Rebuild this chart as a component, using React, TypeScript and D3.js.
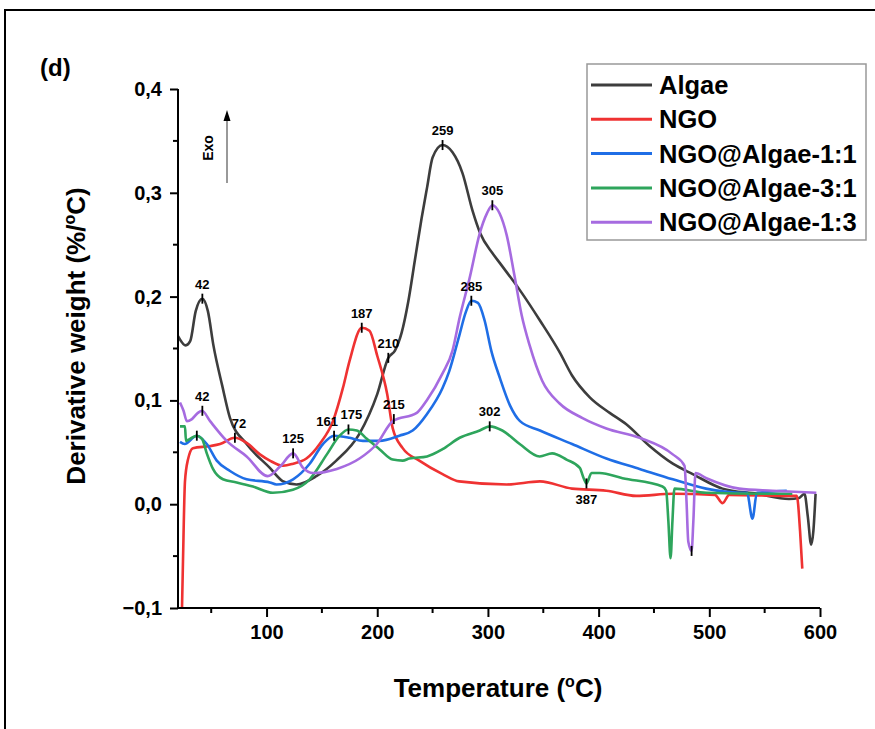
import React, { useEffect, useRef } from 'react';
import * as d3 from 'd3';

// [temperature °C, derivative weight %/°C]
const algae: [number, number][] = [
  [20, 0.162], [27, 0.153], [31, 0.157], [36, 0.186], [42, 0.198], [47, 0.186], [52, 0.153],
  [60, 0.114], [67, 0.083], [82, 0.058], [103, 0.035], [115, 0.022], [127, 0.019], [145, 0.027],
  [163, 0.042], [184, 0.068], [200, 0.106], [210, 0.141], [216, 0.148], [222, 0.165], [228, 0.195],
  [234, 0.235], [240, 0.275], [245, 0.305], [250, 0.334], [259, 0.346], [268, 0.339], [277, 0.319],
  [286, 0.283], [293, 0.261], [304, 0.242], [311, 0.232], [329, 0.206], [347, 0.177], [365, 0.146],
  [376, 0.124], [392, 0.103], [410, 0.088], [425, 0.077], [446, 0.056], [467, 0.039], [485, 0.029],
  [512, 0.015], [543, 0.010], [572, 0.005], [581, 0.006], [586, 0.010], [589, -0.012], [592, -0.039],
  [594, -0.026], [596, 0.010],
];

const ngo: [number, number][] = [
  [23.6, -0.101], [24.5, -0.055], [26.3, 0.022], [29, 0.043], [33.5, 0.054], [49, 0.056],
  [58, 0.058], [71.4, 0.064], [82, 0.059], [94, 0.048], [103, 0.042], [115, 0.037], [124, 0.039],
  [136, 0.044], [148, 0.058], [160, 0.080], [169, 0.112], [175, 0.138], [186, 0.170], [193, 0.167],
  [200, 0.143], [209, 0.106], [214, 0.073], [223, 0.054], [238, 0.042], [259, 0.029], [274, 0.022],
  [317, 0.019], [347, 0.022], [376, 0.015], [407, 0.013], [434, 0.008], [467, 0.010], [505, 0.009],
  [512, 0.001], [518, 0.009], [572, 0.008], [579, 0.008], [582, -0.026], [584, -0.062],
];

const ngoAlgae11: [number, number][] = [
  [21.8, 0.060], [26, 0.058], [37, 0.066], [46, 0.058], [55, 0.042], [67, 0.032], [82, 0.024],
  [103, 0.021], [109, 0.019], [124, 0.024], [139, 0.039], [151, 0.058], [161, 0.066], [175, 0.064],
  [187, 0.061], [202, 0.061], [220, 0.066], [232, 0.071], [245, 0.087], [259, 0.112], [265, 0.128],
  [274, 0.162], [280, 0.185], [285, 0.196], [291, 0.194], [297, 0.177], [303, 0.148], [311, 0.121],
  [320, 0.095], [329, 0.080], [347, 0.071], [376, 0.058], [407, 0.044], [437, 0.034], [467, 0.024],
  [497, 0.015], [527, 0.011], [534, 0.011], [539, -0.014], [543, 0.011], [570, 0.013],
];

const ngoAlgae31: [number, number][] = [
  [21.8, 0.075], [26.3, 0.075], [27.2, 0.061], [30.8, 0.063], [37, 0.066], [41.7, 0.063],
  [46, 0.049], [51.6, 0.034], [60.6, 0.024], [73, 0.021], [87.7, 0.017], [105.7, 0.011],
  [123.8, 0.014], [139, 0.024], [154.5, 0.048], [166, 0.066], [174, 0.072], [181.5, 0.071],
  [190.6, 0.063], [202, 0.053], [214, 0.043], [223, 0.042], [229, 0.044], [245, 0.046],
  [259, 0.053], [274.5, 0.064], [292.6, 0.071], [301.6, 0.075], [313, 0.071], [328.7, 0.058],
  [346.7, 0.046], [358, 0.049], [371, 0.043], [383, 0.035], [386.5, 0.025], [389, 0.020],
  [393.6, 0.030], [400.9, 0.030], [421.6, 0.025], [457.7, 0.017], [461, 0.013], [463, -0.016],
  [465, -0.052], [466.7, -0.016], [468.5, 0.015], [497.4, 0.011], [557, 0.010], [575, 0.010],
];

const ngoAlgae13: [number, number][] = [
  [21.8, 0.098], [25, 0.090], [28, 0.080], [32.6, 0.082], [38, 0.088], [41.7, 0.090], [49, 0.080],
  [64, 0.061], [82, 0.046], [101, 0.027], [112, 0.036], [124, 0.049], [133, 0.035], [142, 0.030],
  [163.5, 0.034], [184, 0.044], [199.6, 0.058], [214, 0.080], [235.7, 0.088], [244.7, 0.100],
  [259, 0.126], [268, 0.148], [274.5, 0.180], [283.5, 0.218], [292.6, 0.261], [299, 0.280],
  [304, 0.288], [310.6, 0.280], [317, 0.259], [324, 0.220], [330.5, 0.182], [337.7, 0.153],
  [349, 0.119], [364.8, 0.097], [385.5, 0.083], [407, 0.073], [437, 0.064], [467, 0.048],
  [477.6, 0.037], [479.4, 0.003], [481, -0.036], [484, -0.045], [485.6, -0.016], [487.5, 0.030],
  [497.4, 0.025], [527, 0.015], [557, 0.013], [596.7, 0.011],
];

const seriesNames = ['Algae', 'NGO', 'NGO@Algae-1:1', 'NGO@Algae-3:1', 'NGO@Algae-1:3'];
const seriesData = [algae, ngo, ngoAlgae11, ngoAlgae31, ngoAlgae13];
const seriesColors = ['#3d3d3d', '#ef3232', '#1f6ee6', '#2ea55c', '#a66be0'];

// peak markers: [T, value, label]
const peaks: [number, number, string][] = [
  [42, 0.198, '42'], [259, 0.346, '259'], [285, 0.196, '285'], [304, 0.288, '305'],
  [186, 0.170, '187'], [210, 0.141, '210'], [42, 0.090, '42'], [71.4, 0.064, '72'],
  [124, 0.049, '125'], [161, 0.066, '161'], [174, 0.072, '175'], [215, 0.082, '215'],
  [301.6, 0.075, '302'], [389, 0.020, '387'], [37, 0.066, ''], [484, -0.045, ''],
];
// labels drawn below their marker, and small sideways nudges to keep neighbours apart
const labelsBelow = ['387'];
const labelNudge: Record<string, number> = { '161': -7, '175': 3, '72': 4 };

const yTicks = [-0.1, 0, 0.1, 0.2, 0.3, 0.4];
const yMinor = [-0.05, 0.05, 0.15, 0.25, 0.35];
const xTicks = [100, 200, 300, 400, 500, 600];
const xMinor = [50, 150, 250, 350, 450, 550];

const W = 875;
const H = 729;
const FONT = 'Liberation Sans, Arial, sans-serif';

export default function App() {
  const ref = useRef<SVGSVGElement>(null);

  useEffect(() => {
    document.body.style.margin = '0';
    const svg = d3.select(ref.current);
    svg.selectAll('*').remove();

    const x = d3.scaleLinear().domain([20, 600]).range([178, 820]);
    const y = d3.scaleLinear().domain([-0.1, 0.4]).range([608, 89]);

    // outer frame
    svg.append('path')
      .attr('d', `M5,${H + 5} L5,10 L${W + 5},10`)
      .attr('fill', 'none')
      .attr('stroke', '#000')
      .attr('stroke-width', 2);

    svg.append('text')
      .attr('x', 40).attr('y', 76)
      .attr('font-family', FONT).attr('font-weight', 'bold').attr('font-size', 24)
      .text('(d)');

    // clip for curves
    svg.append('clipPath').attr('id', 'plot-clip')
      .append('rect').attr('x', 178).attr('y', 60).attr('width', 660).attr('height', 549);

    const line = d3.line<[number, number]>()
      .x(d => x(d[0]))
      .y(d => y(d[1]))
      .curve(d3.curveMonotoneX);

    const curves = svg.append('g').attr('clip-path', 'url(#plot-clip)');
    seriesData.forEach((s, i) => {
      curves.append('path')
        .datum(s)
        .attr('fill', 'none')
        .attr('stroke', seriesColors[i])
        .attr('stroke-width', 2.6)
        .attr('stroke-linejoin', 'round')
        .attr('d', line);
    });

    const fmt = (v: number) => d3.format('.1f')(v).replace('.', ',').replace('-', '\u2212');

    // y axis
    const yAxis = svg.append('g').attr('transform', 'translate(178,0)');
    yAxis.call(d3.axisLeft(y).tickValues(yTicks).tickSize(8).tickPadding(8).tickFormat(d => fmt(+d)));
    yMinor.forEach(v => {
      yAxis.append('line').attr('x1', -5).attr('x2', 0).attr('y1', y(v)).attr('y2', y(v))
        .attr('stroke', '#000').attr('stroke-width', 2);
    });

    // x axis
    const xAxis = svg.append('g').attr('transform', 'translate(0,608)');
    xAxis.call(d3.axisBottom(x).tickValues(xTicks).tickSize(9).tickPadding(8).tickFormat(d3.format('d')));
    xMinor.forEach(v => {
      xAxis.append('line').attr('x1', x(v)).attr('x2', x(v)).attr('y1', 0).attr('y2', 5)
        .attr('stroke', '#000').attr('stroke-width', 2);
    });

    yAxis.select('.domain').attr('stroke-width', 2).attr('d', `M0,${y(-0.1)}V${y(0.4)}`);
    xAxis.select('.domain').attr('stroke-width', 2).attr('d', `M178,0H${x(600)}`);
    [yAxis, xAxis].forEach(a => {
      a.selectAll('.tick line').attr('stroke-width', 2);
      a.selectAll('.tick text')
        .attr('font-family', FONT).attr('font-weight', 'bold').attr('font-size', 20).attr('fill', '#000');
    });

    // axis titles
    const yt = svg.append('text')
      .attr('transform', 'translate(85,336) rotate(-90)')
      .attr('text-anchor', 'middle')
      .attr('font-family', FONT).attr('font-weight', 'bold').attr('font-size', 26);
    yt.append('tspan').text('Derivative weight (%/');
    yt.append('tspan').attr('font-size', 16).attr('dy', -10).text('o');
    yt.append('tspan').attr('dy', 10).text('C)');

    const xt = svg.append('text')
      .attr('x', 498).attr('y', 697)
      .attr('text-anchor', 'middle')
      .attr('font-family', FONT).attr('font-weight', 'bold').attr('font-size', 26);
    xt.append('tspan').text('Temperature (');
    xt.append('tspan').attr('font-size', 16).attr('dy', -10).text('o');
    xt.append('tspan').attr('dy', 10).text('C)');

    // Exo arrow
    svg.append('line').attr('x1', 227).attr('x2', 227).attr('y1', 183).attr('y2', 118)
      .attr('stroke', '#777').attr('stroke-width', 1.5);
    svg.append('path').attr('d', 'M227,110 L223.5,121 L230.5,121 Z').attr('fill', '#000');
    svg.append('text')
      .attr('transform', 'translate(213,148) rotate(-90)')
      .attr('text-anchor', 'middle')
      .attr('font-family', FONT).attr('font-weight', 'bold').attr('font-size', 14)
      .text('Exo');

    // peak markers
    const pk = svg.append('g');
    peaks.forEach(([t, v, label]) => {
      const px = x(t);
      const py = y(v);
      pk.append('line').attr('x1', px).attr('x2', px).attr('y1', py - 5).attr('y2', py + 5)
        .attr('stroke', '#000').attr('stroke-width', 1.8);
      if (label) {
        const below = labelsBelow.includes(label);
        pk.append('text')
          .attr('x', px + (labelNudge[label] || 0)).attr('y', below ? py + 21 : py - 10)
          .attr('text-anchor', 'middle')
          .attr('font-family', FONT).attr('font-weight', 'bold').attr('font-size', 13)
          .text(label);
      }
    });

    // legend
    const lg = svg.append('g');
    lg.append('rect').attr('x', 587).attr('y', 64).attr('width', 279).attr('height', 176)
      .attr('fill', '#fff').attr('stroke', '#999').attr('stroke-width', 1.5);
    seriesNames.forEach((name, i) => {
      const cy = 85 + i * 34.3;
      lg.append('line').attr('x1', 591).attr('x2', 652).attr('y1', cy).attr('y2', cy)
        .attr('stroke', seriesColors[i]).attr('stroke-width', 3);
      lg.append('text').attr('x', 659).attr('y', cy + 9)
        .attr('font-family', FONT).attr('font-weight', 'bold').attr('font-size', 25.5)
        .text(name);
    });
  }, []);

  return <svg ref={ref} width={W} height={H} style={{ display: 'block', background: '#fff' }} />;
}
